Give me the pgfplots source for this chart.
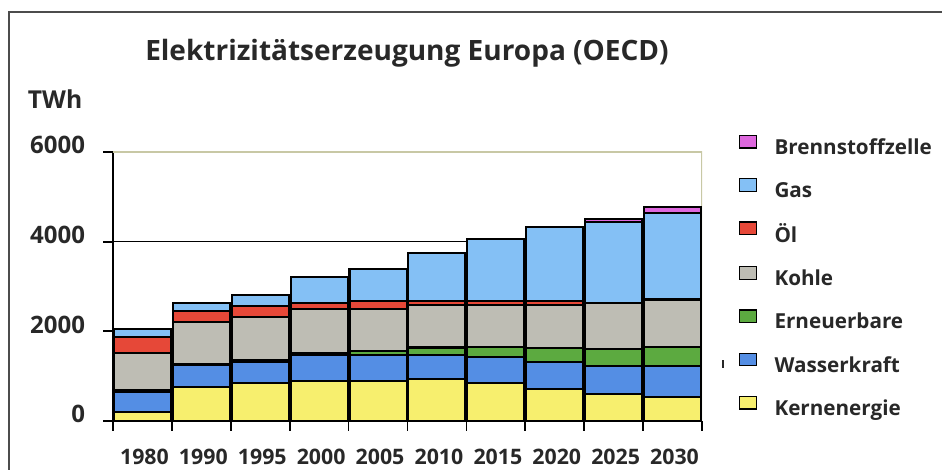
\documentclass[border=0pt]{standalone}
\usepackage{fontspec}
\setmainfont{Open Sans}
\usepackage{pgfplots}
\usepackage{pgfplotstable}
\pgfplotsset{compat=1.18}

\definecolor{kern}{RGB}{247,239,110}
\definecolor{wasser}{RGB}{84,142,228}
\definecolor{erneu}{RGB}{92,170,64}
\definecolor{kohle}{RGB}{190,189,180}
\definecolor{oel}{RGB}{230,72,56}
\definecolor{gas}{RGB}{132,192,245}
\definecolor{brenn}{RGB}{222,104,222}
\definecolor{rahmen}{RGB}{200,200,165}
\definecolor{schrift}{RGB}{40,40,40}

% TWh, bar centres at 0.5 ... 9.5
\pgfplotstableread{
x   kern wasser erneu kohle oel  gas  brenn
0.5 210  430    40    840   360  165  0
1.5 766  480    20    950   245  170  0
2.5 840  480    40    955   250  245  0
3.5 890  590    30    990   125  595  0
4.5 890  580    95    930   180  710  0
5.5 930  540    170   945   90   1065 0
6.5 840  580    225   945   90   1380 0
7.5 705  620    300   965   90   1645 0
8.5 600  635    370   1020  10   1800 75
9.5 530  705    410   1055  10   1935 135
}\strom

\begin{document}
\begin{tikzpicture}[x=0.75pt,y=0.75pt]
\useasboundingbox (0,0) rectangle (942,470);
% outer frame (right and bottom edge lie outside the picture)
\draw[gray!60!black, line width=0.8pt] (9,0) -- (9,458) -- (942,458);
\node[font=\bfseries\fontsize{21}{25}\selectfont, text=schrift] at (407,417) {Elektrizitätserzeugung Europa (OECD)};
\node[font=\bfseries\fontsize{18.5}{22}\selectfont, text=schrift, anchor=east] at (87,371) {TWh};
\draw[schrift, line width=1pt] (723,102) -- (723,110);
\begin{axis}[
    at={(84.75pt,36.75pt)}, anchor=south west,
    scale only axis,
    width=441.75pt, height=201.75pt,
    xmin=0, xmax=10, ymin=0, ymax=6000,
    axis x line*=bottom, axis y line*=left,
    axis line style={-, black, line width=1.5pt},
    tick align=outside,
    major tick length=7.5pt,
    tick style={black, line width=1.3pt},
    xtick={0,...,10},
    xticklabels={1980,1990,1995,2000,2005,2010,2015,2020,2025,2030},
    x tick label as interval,
    ytick={0,2000,4000,6000},
    extra y ticks={2000,4000},
    extra y tick labels={},
    extra y tick style={grid=major, major grid style={black, line width=1pt}},
    /pgf/number format/1000 sep={},
    /pgf/number format/assume math mode=true,
    ticklabel style={text=schrift},
    xticklabel style={font=\bfseries\fontsize{16}{19}\selectfont, anchor=center, yshift=-19.5pt, xshift=1.5pt},
    yticklabel style={font=\bfseries\fontsize{18}{21}\selectfont, anchor=east, xshift=-10pt, yshift=5pt},
    ybar stacked, bar width=0.97,
    every axis plot/.append style={draw=black, line width=1.6pt},
    area legend,
    reverse legend,
    legend cell align=left,
    legend image code/.code={\draw[#1, line width=0.9pt] (0pt,-0.5pt) rectangle (13pt,9pt);},
    legend style={draw=none, fill=none, at={(1.055,1.075)}, anchor=north west,
        font=\bfseries\fontsize{15.5}{18}\selectfont, text=schrift,
        row sep=14.3pt, column sep=11pt},
]
\addplot[fill=kern]   table[x=x, y=kern]   {\strom};
\addplot[fill=wasser] table[x=x, y=wasser] {\strom};
\addplot[fill=erneu]  table[x=x, y=erneu]  {\strom};
\addplot[fill=kohle]  table[x=x, y=kohle]  {\strom};
\addplot[fill=oel]    table[x=x, y=oel]    {\strom};
\addplot[fill=gas]    table[x=x, y=gas]    {\strom};
\addplot[fill=brenn]  table[x=x, y=brenn]  {\strom};
\legend{Kernenergie,Wasserkraft,Erneuerbare,Kohle,Öl,Gas,Brennstoffzelle}
\draw[rahmen, line width=0.8pt] (rel axis cs:0,1) -- (rel axis cs:1,1) -- (rel axis cs:1,0);
\end{axis}
\end{tikzpicture}
\end{document}
